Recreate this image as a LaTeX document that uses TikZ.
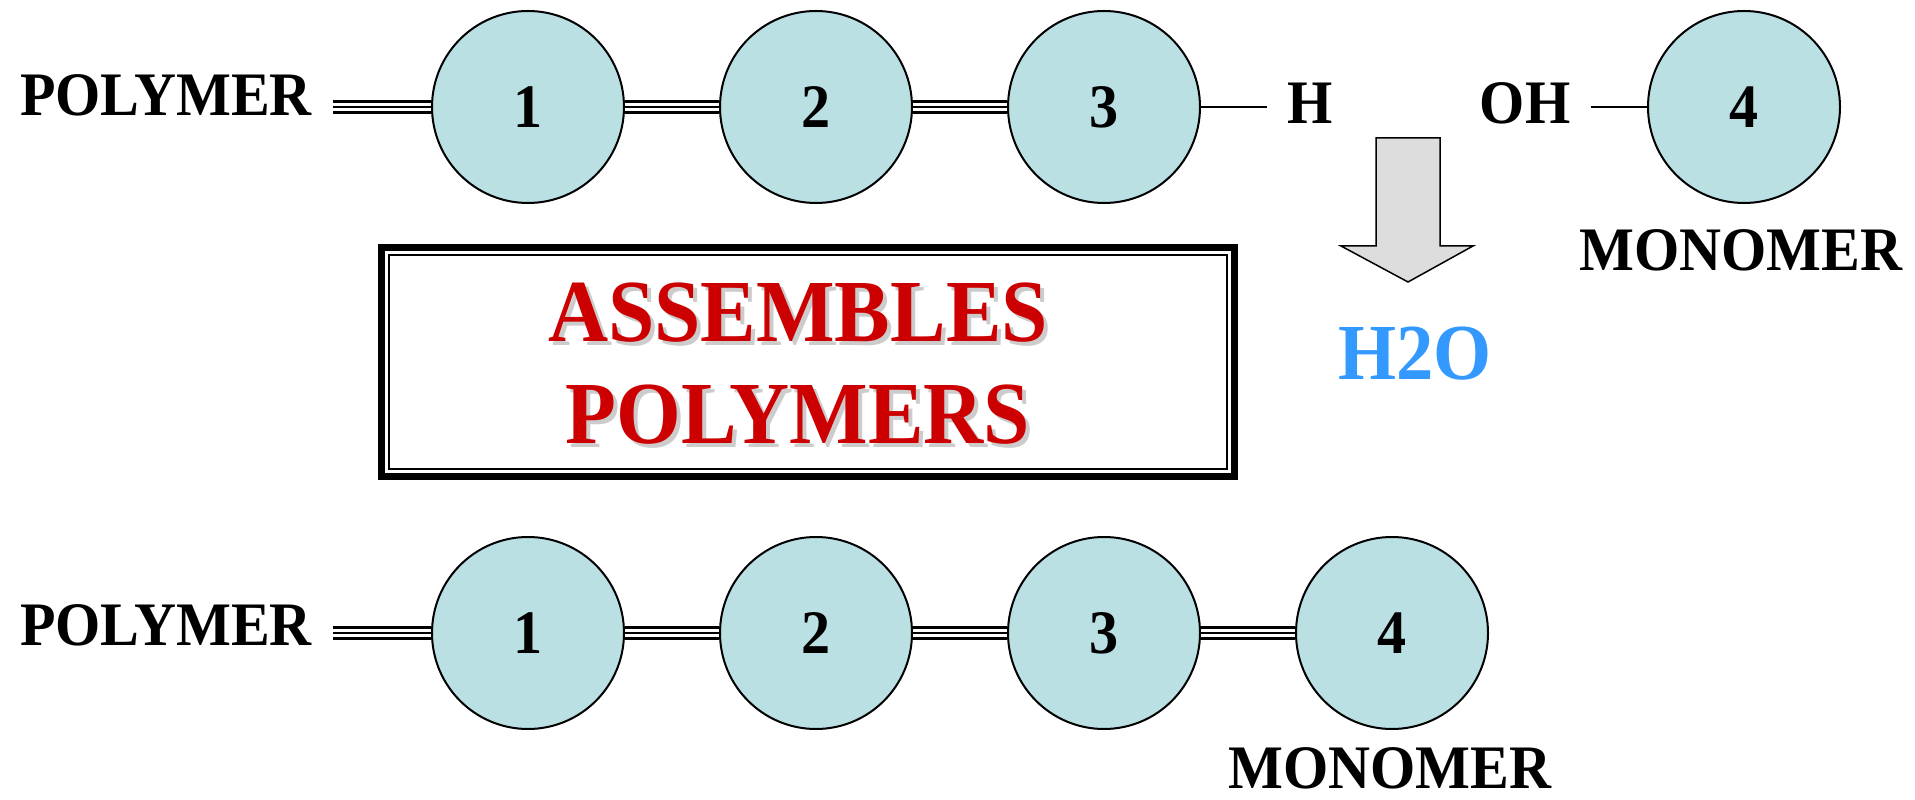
\documentclass[tikz,border=0pt]{standalone}
\usepackage{fontspec}
\setmainfont{Liberation Serif}[FakeStretch=0.94]
\definecolor{cfill}{RGB}{186,224,228}
\definecolor{tred}{RGB}{204,0,0}
\definecolor{tblue}{RGB}{51,153,255}
\definecolor{agray}{RGB}{221,221,221}
\newcommand\mylbl{\fontsize{17.6pt}{20pt}\selectfont\bfseries}
\newcommand\mybig{\fontsize{25.2pt}{28pt}\selectfont\bfseries}
\newcommand\mywater{\fontsize{22.6pt}{26pt}\selectfont\bfseries}
\begin{document}
\begin{tikzpicture}[x=0.1mm,y=-0.1mm,
  mono/.style={circle, draw=black, line width=0.2mm, fill=cfill, minimum size=19.2mm, inner sep=0pt, font=\mylbl},
  txt/.style={font=\mylbl, inner sep=2mm},
  redtxt/.style={font=\mybig, text=tred, inner sep=0pt},
  shadowtxt/.style={font=\mybig, text=black!20, inner sep=0pt},
  triple/.style={line width=1.4mm, draw=black,
    postaction={draw=white, line width=0.85mm},
    postaction={draw=black, line width=0.27mm}},
  single/.style={draw=black, line width=0.15mm},
  frame/.style={draw=black, line width=0.7mm, minimum width=85.3mm, minimum height=22.9mm, inner sep=0pt}
  ]
\path[use as bounding box] (0,0) rectangle (1915,800);
% top row
\node[txt] (polA) at (166,95) {POLYMER};
\node[mono] (a1) at (528,107) {1};
\node[mono] (a2) at (816,107) {2};
\node[mono] (a3) at (1104,107) {3};
\node[txt] (H) at (1310,103) {H};
\node[txt] (OH) at (1525,103) {OH};
\node[mono] (a4) at (1744,107) {4};
\node[txt] (monA) at (1741,250) {MONOMER};
\draw[triple] (a1.west -| polA.east) -- (a1.west);
\draw[triple] (a1) -- (a2);
\draw[triple] (a2) -- (a3);
\draw[single] (a3.east) -- (a3.east -| H.west);
\draw[single] (a4.west -| OH.east) -- (a4.west);
% arrow and water
\draw[line width=0.15mm, fill=agray, line join=miter]
  (1376,138) -- (1440,138) -- (1440,246) -- (1473,246) -- (1408,282) -- (1341,246) -- (1376,246) -- cycle;
\node[font=\mywater, text=tblue, inner sep=0pt] (water) at (1415,354) {H2O};
% box
\node[frame] (box) at (808,362) {};
\draw[line width=0.2mm] ([shift={(11,11)}]box.north west) rectangle ([shift={(-11,-11)}]box.south east);
\node[shadowtxt] (t1s) at (802,317) {ASSEMBLES};
\node[redtxt] (t1) at (798,313) {ASSEMBLES};
\node[shadowtxt] (t2s) at (802,419) {POLYMERS};
\node[redtxt] (t2) at (798,415) {POLYMERS};
% bottom row
\node[txt] (polB) at (166,625) {POLYMER};
\node[mono] (b1) at (528,633) {1};
\node[mono] (b2) at (816,633) {2};
\node[mono] (b3) at (1104,633) {3};
\node[mono] (b4) at (1392,633) {4};
\node[txt, inner sep=0.5mm] (monB) at (1390,768) {MONOMER};
\draw[triple] (b1.west -| polB.east) -- (b1.west);
\draw[triple] (b1) -- (b2);
\draw[triple] (b2) -- (b3);
\draw[triple] (b3) -- (b4);
\end{tikzpicture}
\end{document}
